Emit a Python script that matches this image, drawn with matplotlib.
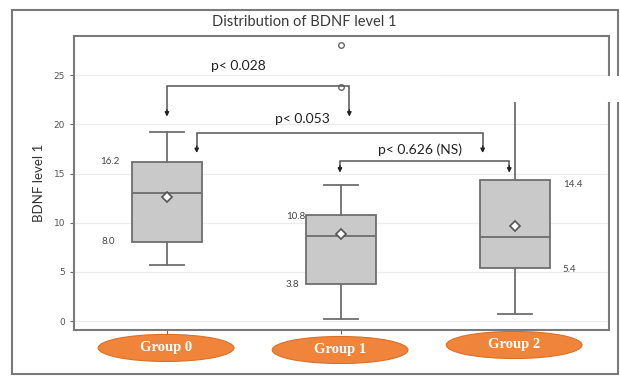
import matplotlib
matplotlib.use("Agg")
import matplotlib.pyplot as plt
from matplotlib.patches import Ellipse, Rectangle
import matplotlib.transforms as mtransforms

# ---- data ----
groups = ["Group 0", "Group 1", "Group 2"]
q1 = [8.0, 3.8, 5.4]
med = [13.0, 8.7, 8.55]
q3 = [16.2, 10.8, 14.4]
whislo = [5.75, 0.2, 0.7]
whishi = [19.2, 13.8, 23.0]
means = [12.6, 8.9, 9.7]
fliers = [[], [23.8, 28.05], []]
yticks = [0, 5, 10, 15, 20, 25]

# value labels beside boxes
lbl_q3_text = ["16.2", "10.8", "14.4"]
lbl_q1_text = ["8.0", "3.8", "5.4"]

# significance brackets: (x_left, x_right, y_bar, y_tip, label, label_x, label_y)
brackets = [
    (0.0, 1.048, 23.9, 20.8, "p< 0.028", 0.41, 25.9),
    (0.171, 1.814, 19.1, 17.1, "p< 0.053", 0.78, 20.6),
    (0.994, 1.967, 16.3, 15.1, "p< 0.626 (NS)", 1.454, 17.4),
]

W, H = 620, 376
fig = plt.figure(figsize=(W / 100, H / 100), dpi=100)
fig.patch.set_facecolor("white")
ax = fig.add_axes([74 / W, 1 - 330 / H, (609 - 74) / W, (330 - 36) / H])

stats = []
for i in range(3):
    stats.append(dict(q1=q1[i], med=med[i], q3=q3[i], whislo=whislo[i],
                      whishi=whishi[i], mean=means[i], fliers=fliers[i]))

edge = "#6e6e6e"
ax.bxp(stats, positions=[0, 1, 2], widths=0.40, patch_artist=True,
       showmeans=True, showfliers=True,
       boxprops=dict(facecolor="#c9c9c9", edgecolor=edge, linewidth=1.3),
       medianprops=dict(color=edge, linewidth=1.3),
       whiskerprops=dict(color=edge, linewidth=1.3),
       capprops=dict(color=edge, linewidth=1.3),
       capwidths=0.2,
       meanprops=dict(marker="D", markerfacecolor="white", markeredgecolor="#555555",
                      markersize=5, markeredgewidth=1.2),
       flierprops=dict(marker="o", markerfacecolor="white", markeredgecolor="#666666",
                       markersize=4, markeredgewidth=1.0))

ax.set_xlim(-0.534, 2.54)
ax.set_ylim(-0.9, 29.0)
ax.set_yticks(yticks)
ax.set_yticklabels([str(t) for t in yticks], fontsize=6.5, color="#555555")
ax.set_xticks([0, 1, 2])
ax.set_xticklabels([])
ax.tick_params(axis="both", length=3, color="#666666", width=0.8)
ax.grid(axis="y", color="#ececec", linewidth=0.8)
ax.set_axisbelow(True)
for s in ax.spines.values():
    s.set_color("#7a7a7a")
    s.set_linewidth(1.5)

ax.set_ylabel("BDNF level 1", fontsize=9.5, color="#333333", family="Lato", labelpad=6)
fig.text(304 / W, 1 - 22 / H, "Distribution of BDNF level 1", ha="center", va="center",
         fontsize=10.5, color="#3a3a3a", family="Lato")

# value labels
q3_lbl_x = [-0.33, 0.74, 2.33]
q1_lbl_x = [-0.34, 0.72, 2.31]
q3_lbl_y = [16.2, 10.6, 13.9]
q1_lbl_y = [8.1, 3.75, 5.3]
for i in range(3):
    ax.text(q3_lbl_x[i], q3_lbl_y[i], lbl_q3_text[i], fontsize=7, color="#444444",
            ha="center", va="center", family="Lato")
    ax.text(q1_lbl_x[i], q1_lbl_y[i], lbl_q1_text[i], fontsize=7, color="#444444",
            ha="center", va="center", family="Lato")

# brackets
for xl, xr, yb, yt, lab, lx, ly in brackets:
    ax.plot([xl, xl, xr, xr], [yt + 0.6, yb, yb, yt + 0.6], color="#555555", lw=1.1,
            solid_joinstyle="miter")
    for xx in (xl, xr):
        ax.annotate("", xy=(xx, yt), xytext=(xx, yt + 0.7),
                    arrowprops=dict(arrowstyle="-|>", color="#222222", lw=1.0,
                                    mutation_scale=6, shrinkA=0, shrinkB=0))
    ax.text(lx, ly, lab, fontsize=10, color="#222222", ha="center", va="center",
            family="Lato")

# orange group ellipses
trans = mtransforms.blended_transform_factory(ax.transData, ax.transAxes)
ell_y = [-0.061, -0.068, -0.051]
for i, g in enumerate(groups):
    e = Ellipse((i - 0.005, ell_y[i]), 0.78, 0.092, transform=trans, clip_on=False,
                facecolor="#f0843a", edgecolor="#d9702a", linewidth=0.8, zorder=5)
    ax.add_patch(e)
    ax.text(i - 0.005, ell_y[i], g, transform=trans, ha="center", va="center",
            fontsize=10.5, color="white", fontweight="bold", family="Liberation Serif",
            zorder=6, clip_on=False)

# outer frame
fig.patches.append(Rectangle((12 / W, 1 - 374 / H), (618 - 12) / W, (374 - 10) / H,
                             transform=fig.transFigure, fill=False, edgecolor="#7a7a7a",
                             linewidth=1.5, zorder=10))
# white band masking part of right side
fig.patches.append(Rectangle((440 / W, 1 - 102 / H), (W - 440) / W, 26 / H,
                             transform=fig.transFigure, facecolor="white",
                             edgecolor="none", zorder=20))

fig.savefig("out.png", dpi=100)
